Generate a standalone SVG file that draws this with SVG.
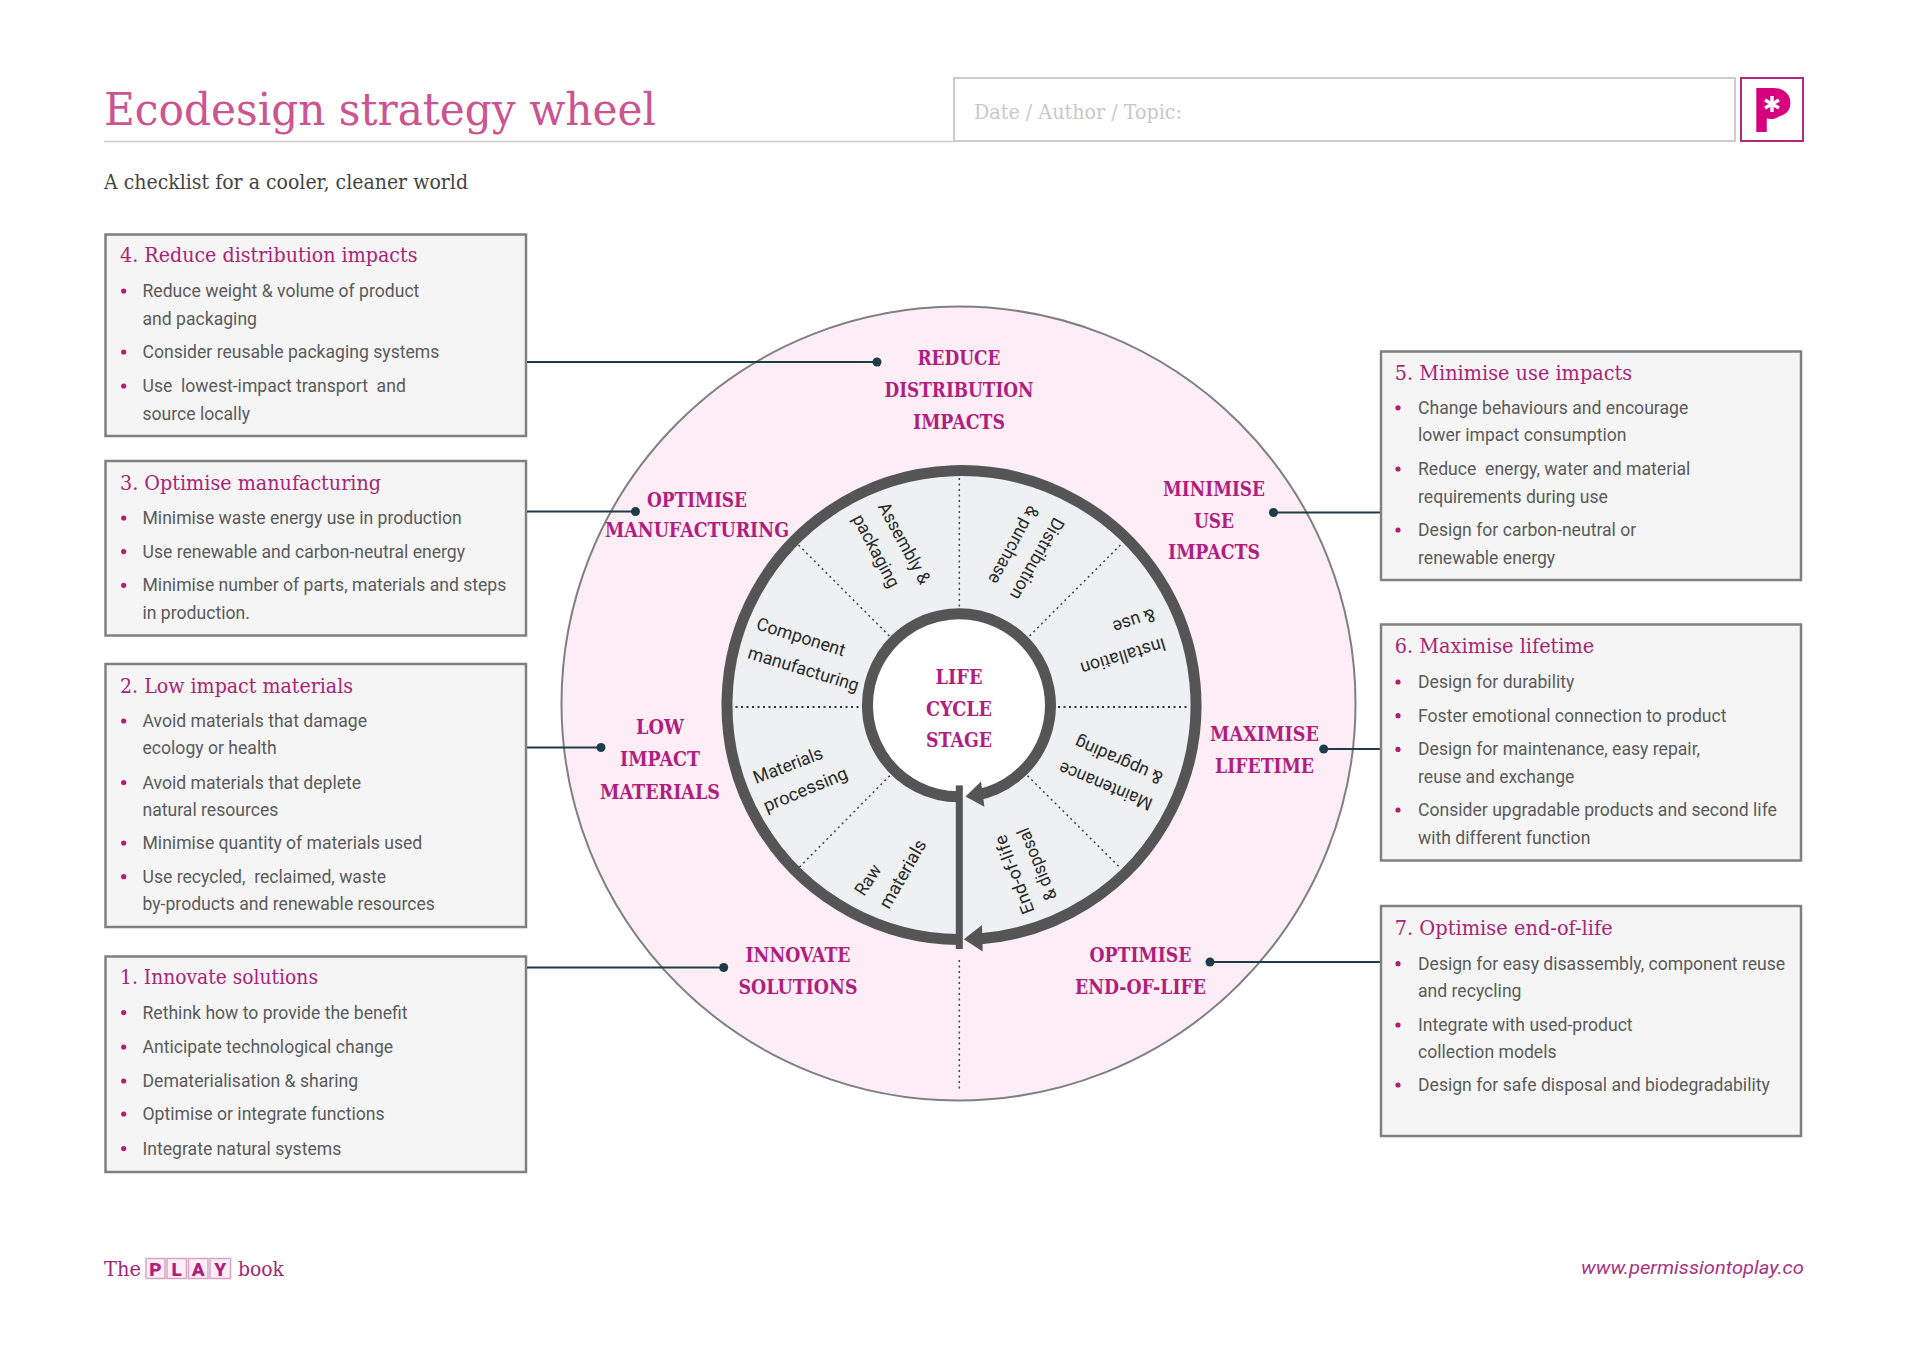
<svg xmlns="http://www.w3.org/2000/svg" width="1920" height="1357" viewBox="0 0 1920 1357">
<style>
.slab{font-family:"DejaVu Serif","Liberation Serif",serif}
.t{font-size:21px;fill:#a82478;transform:translateY(-1px)}
.b{font-family:Roboto,"Liberation Sans",sans-serif;font-size:17.6px;fill:#5a5a5a}
.box{fill:#f5f5f6;stroke:#808080;stroke-width:2.5}
.d{fill:#b01f6f}
.w{font-size:19.5px;font-weight:700;fill:#b01f7f;text-anchor:middle;transform:translateY(-1px)}
.s{font-family:Roboto,"Liberation Sans",sans-serif;font-size:18px;fill:#2a2a2a;text-anchor:middle}
.c{stroke:#1d3c47;stroke-width:2;fill:none}
.k{fill:#1d3c47}
.dot1{stroke:#333;stroke-width:2;stroke-dasharray:2 3.5;fill:none}
.dot2{stroke:#444;stroke-width:1.5;stroke-dasharray:2 3.5;fill:none}
.ring{fill:none;stroke:#555;stroke-width:11}
.h{fill:#555}
.pl{font-family:Roboto,sans-serif;font-weight:900;font-size:19px;fill:#b01f7f;text-anchor:middle}
.pb{fill:#fbeef5;stroke:#d9a4c8;stroke-width:1.5}
.ast{stroke:#fff;stroke-width:3.4;fill:none}
</style>
<rect width="1920" height="1357" fill="#fff"/>
<g id="header">
<line x1="104" y1="141.5" x2="954" y2="141.5" stroke="#ccc" stroke-width="1.5"/>
<text class="slab" x="104" y="125" font-size="44" fill="#cc5490" textLength="552" lengthAdjust="spacingAndGlyphs">Ecodesign strategy wheel</text>
<text class="slab" x="104" y="189" font-size="21" fill="#444" textLength="364" lengthAdjust="spacingAndGlyphs">A checklist for a cooler, cleaner world</text>
<rect x="954" y="78" width="781" height="63" fill="#fff" stroke="#ccc" stroke-width="2"/>
<text class="slab" x="974" y="119" font-size="21" fill="#c8c8c8" textLength="208" lengthAdjust="spacingAndGlyphs">Date / Author / Topic:</text>
</g>
<g id="logo">
<rect x="1741" y="78" width="62" height="63" fill="#fff" stroke="#b0287f" stroke-width="2"/>
<circle cx="1771" cy="106" r="13" fill="#d6007f"/>
<text x="1753" y="132" font-family="Roboto,sans-serif" font-weight="900" font-size="61" fill="#d6007f">P</text>
<path class="ast" d="M1772 96V112M1765 100L1779 108M1779 100L1765 108"/>
</g>
<g id="wheel">
<circle cx="958.5" cy="703.5" r="397" fill="#fdeef6" stroke="#808080" stroke-width="2"/>
<circle cx="959" cy="705.3" r="234" fill="#eef0f1"/>
<circle cx="959" cy="705.3" r="92" fill="#fff"/>
<g id="spokes">
<line class="dot1" x1="730" y1="707" x2="861" y2="707"/>
<line class="dot1" x1="1058" y1="707" x2="1188" y2="707"/>
<line class="dot2" x1="959.3" y1="478" x2="959.3" y2="609"/>
<line class="dot2" x1="959.3" y1="960" x2="959.3" y2="1090"/>
<line class="dot2" x1="798.5" y1="545" x2="889.7" y2="636.3"/>
<line class="dot2" x1="1120.4" y1="545" x2="1029.2" y2="636.3"/>
<line class="dot2" x1="1027.5" y1="775.7" x2="1120.4" y2="868"/>
<line class="dot2" x1="889.7" y1="775.7" x2="798.5" y2="868"/>
</g>
<path class="ring" d="M959 939.6A234.5 234.5 0 1 1 981 938.8"/>
<path class="ring" d="M959 796.8A91.5 91.5 0 1 1 977 795"/>
<polygon class="h" points="963.8,939.3 982,925 982.7,951.4"/>
<polygon class="h" points="965.5,796.4 981,781.6 984.4,806.7"/>
<rect class="h" x="955.8" y="785.4" width="7" height="163.6"/>
</g>
<g id="stages">
<text class="s" transform="translate(868 880) rotate(-57)" y="6" textLength="33" lengthAdjust="spacingAndGlyphs">Raw</text>
<text class="s" transform="translate(902.8 874) rotate(-60)" y="6" textLength="76" lengthAdjust="spacingAndGlyphs">materials</text>
<text class="s" transform="translate(788 765.4) rotate(-21)" y="6" textLength="73" lengthAdjust="spacingAndGlyphs">Materials</text>
<text class="s" transform="translate(805.4 789.5) rotate(-22.6)" y="6" textLength="89.5" lengthAdjust="spacingAndGlyphs">processing</text>
<text class="s" transform="translate(800.9 637) rotate(17.4)" y="6" textLength="92" lengthAdjust="spacingAndGlyphs">Component</text>
<text class="s" transform="translate(803.6 669) rotate(17)" y="6" textLength="115" lengthAdjust="spacingAndGlyphs">manufacturing</text>
<text class="s" transform="translate(904.3 543.3) rotate(61.5)" y="6" textLength="90" lengthAdjust="spacingAndGlyphs">Assembly &amp;</text>
<text class="s" transform="translate(876.2 550.9) rotate(62)" y="6" textLength="80" lengthAdjust="spacingAndGlyphs">packaging</text>
<text class="s" transform="translate(1037 558.8) rotate(119.5)" y="6" textLength="91" lengthAdjust="spacingAndGlyphs">Distribution</text>
<text class="s" transform="translate(1013.7 545) rotate(118.6)" y="6" textLength="86" lengthAdjust="spacingAndGlyphs">&amp; purchase</text>
<text class="s" transform="translate(1123.2 656.3) rotate(163)" y="6" textLength="88" lengthAdjust="spacingAndGlyphs">Installation</text>
<text class="s" transform="translate(1134.2 620.8) rotate(161.6)" y="6" textLength="43.5" lengthAdjust="spacingAndGlyphs">&amp; use</text>
<text class="s" transform="translate(1105.6 786) rotate(202.5)" y="6" textLength="99" lengthAdjust="spacingAndGlyphs">Maintenance</text>
<text class="s" transform="translate(1118.7 760.2) rotate(203.7)" y="6" textLength="94" lengthAdjust="spacingAndGlyphs">&amp; upgrading</text>
<text class="s" transform="translate(1014.4 874.6) rotate(249.3)" y="6" textLength="83" lengthAdjust="spacingAndGlyphs">End-of-life</text>
<text class="s" transform="translate(1037 864.2) rotate(247.5)" y="6" textLength="76.5" lengthAdjust="spacingAndGlyphs">&amp; disposal</text>
</g>
<g id="strategy-labels" class="slab">
<text class="w" x="959" y="366" textLength="83" lengthAdjust="spacingAndGlyphs">REDUCE</text>
<text class="w" x="959" y="398" textLength="149" lengthAdjust="spacingAndGlyphs">DISTRIBUTION</text>
<text class="w" x="959" y="430" textLength="92" lengthAdjust="spacingAndGlyphs">IMPACTS</text>
<text class="w" x="697" y="507.5" textLength="100" lengthAdjust="spacingAndGlyphs">OPTIMISE</text>
<text class="w" x="697" y="538" textLength="184" lengthAdjust="spacingAndGlyphs">MANUFACTURING</text>
<text class="w" x="1214" y="496.5" textLength="102" lengthAdjust="spacingAndGlyphs">MINIMISE</text>
<text class="w" x="1214" y="528.5" textLength="40" lengthAdjust="spacingAndGlyphs">USE</text>
<text class="w" x="1214" y="560" textLength="92" lengthAdjust="spacingAndGlyphs">IMPACTS</text>
<text class="w" x="1264.5" y="741.5" textLength="109" lengthAdjust="spacingAndGlyphs">MAXIMISE</text>
<text class="w" x="1264.5" y="773.5" textLength="99" lengthAdjust="spacingAndGlyphs">LIFETIME</text>
<text class="w" x="660" y="735" textLength="48" lengthAdjust="spacingAndGlyphs">LOW</text>
<text class="w" x="660" y="767" textLength="80" lengthAdjust="spacingAndGlyphs">IMPACT</text>
<text class="w" x="660" y="800" textLength="120" lengthAdjust="spacingAndGlyphs">MATERIALS</text>
<text class="w" x="798" y="963" textLength="105" lengthAdjust="spacingAndGlyphs">INNOVATE</text>
<text class="w" x="798" y="995" textLength="119" lengthAdjust="spacingAndGlyphs">SOLUTIONS</text>
<text class="w" x="1140.5" y="963" textLength="102" lengthAdjust="spacingAndGlyphs">OPTIMISE</text>
<text class="w" x="1140.5" y="995" textLength="131" lengthAdjust="spacingAndGlyphs">END-OF-LIFE</text>
<text class="w" x="959" y="684.5" textLength="47" lengthAdjust="spacingAndGlyphs">LIFE</text>
<text class="w" x="959" y="716.5" textLength="66" lengthAdjust="spacingAndGlyphs">CYCLE</text>
<text class="w" x="959" y="748" textLength="66" lengthAdjust="spacingAndGlyphs">STAGE</text>
</g>
<g id="connectors">
<path class="c" d="M526.5 362H877"/><circle class="k" cx="877" cy="362" r="4.5"/>
<path class="c" d="M526.5 511.5H635.5"/><circle class="k" cx="635.5" cy="511.5" r="4.5"/>
<path class="c" d="M526.5 747.5H601"/><circle class="k" cx="601" cy="747.5" r="4.5"/>
<path class="c" d="M526.5 967.5H723.7"/><circle class="k" cx="723.7" cy="967.5" r="4.5"/>
<path class="c" d="M1381 512.5H1273.5"/><circle class="k" cx="1273.5" cy="512.5" r="4.5"/>
<path class="c" d="M1381 749H1323.7"/><circle class="k" cx="1323.7" cy="749" r="4.5"/>
<path class="c" d="M1381 962H1210"/><circle class="k" cx="1210" cy="962" r="4.5"/>
</g>
<g id="box4">
<rect class="box" x="105.5" y="234.5" width="420.5" height="201.5"/>
<text class="slab t" x="120" y="263" textLength="297.5" lengthAdjust="spacingAndGlyphs">4. Reduce distribution impacts</text>
<circle class="d" cx="123.7" cy="291" r="2.6"/><text class="b" x="142.5" y="297">Reduce weight &amp; volume of product</text>
<text class="b" x="142.5" y="325">and packaging</text>
<circle class="d" cx="123.7" cy="352" r="2.6"/><text class="b" x="142.5" y="358">Consider reusable packaging systems</text>
<circle class="d" cx="123.7" cy="386" r="2.6"/><text class="b" x="142.5" y="392" xml:space="preserve">Use  lowest-impact transport  and</text>
<text class="b" x="142.5" y="420">source locally</text>
</g>
<g id="box3">
<rect class="box" x="105.5" y="461" width="420.5" height="174.5"/>
<text class="slab t" x="120" y="490.5" textLength="261" lengthAdjust="spacingAndGlyphs">3. Optimise manufacturing</text>
<circle class="d" cx="123.7" cy="518" r="2.6"/><text class="b" x="142.5" y="524">Minimise waste energy use in production</text>
<circle class="d" cx="123.7" cy="551.6" r="2.6"/><text class="b" x="142.5" y="557.6">Use renewable and carbon-neutral energy</text>
<circle class="d" cx="123.7" cy="585.3" r="2.6"/><text class="b" x="142.5" y="591.3">Minimise number of parts, materials and steps</text>
<text class="b" x="142.5" y="619">in production.</text>
</g>
<g id="box2">
<rect class="box" x="105.5" y="664" width="420.5" height="263"/>
<text class="slab t" x="120" y="693.7" textLength="233" lengthAdjust="spacingAndGlyphs">2. Low impact materials</text>
<circle class="d" cx="123.7" cy="721" r="2.6"/><text class="b" x="142.5" y="727">Avoid materials that damage</text>
<text class="b" x="142.5" y="754">ecology or health</text>
<circle class="d" cx="123.7" cy="782.5" r="2.6"/><text class="b" x="142.5" y="788.5">Avoid materials that deplete</text>
<text class="b" x="142.5" y="815.5">natural resources</text>
<circle class="d" cx="123.7" cy="843" r="2.6"/><text class="b" x="142.5" y="849">Minimise quantity of materials used</text>
<circle class="d" cx="123.7" cy="876.7" r="2.6"/><text class="b" x="142.5" y="882.7" xml:space="preserve">Use recycled,  reclaimed, waste</text>
<text class="b" x="142.5" y="910">by-products and renewable resources</text>
</g>
<g id="box1">
<rect class="box" x="105.5" y="956.5" width="420.5" height="215.5"/>
<text class="slab t" x="120" y="985" textLength="198" lengthAdjust="spacingAndGlyphs">1. Innovate solutions</text>
<circle class="d" cx="123.7" cy="1012.6" r="2.6"/><text class="b" x="142.5" y="1018.6">Rethink how to provide the benefit</text>
<circle class="d" cx="123.7" cy="1047" r="2.6"/><text class="b" x="142.5" y="1053">Anticipate technological change</text>
<circle class="d" cx="123.7" cy="1081" r="2.6"/><text class="b" x="142.5" y="1087">Dematerialisation &amp; sharing</text>
<circle class="d" cx="123.7" cy="1114" r="2.6"/><text class="b" x="142.5" y="1120">Optimise or integrate functions</text>
<circle class="d" cx="123.7" cy="1148.6" r="2.6"/><text class="b" x="142.5" y="1154.6">Integrate natural systems</text>
</g>
<g id="box5">
<rect class="box" x="1381" y="351.5" width="420" height="228.5"/>
<text class="slab t" x="1394.7" y="381" textLength="237.5" lengthAdjust="spacingAndGlyphs">5. Minimise use impacts</text>
<circle class="d" cx="1398" cy="407.8" r="2.6"/><text class="b" x="1418" y="413.8">Change behaviours and encourage</text>
<text class="b" x="1418" y="441.3">lower impact consumption</text>
<circle class="d" cx="1398" cy="469" r="2.6"/><text class="b" x="1418" y="475" xml:space="preserve">Reduce  energy, water and material</text>
<text class="b" x="1418" y="502.5">requirements during use</text>
<circle class="d" cx="1398" cy="530" r="2.6"/><text class="b" x="1418" y="536">Design for carbon-neutral or</text>
<text class="b" x="1418" y="563.8">renewable energy</text>
</g>
<g id="box6">
<rect class="box" x="1381" y="624.5" width="420" height="236"/>
<text class="slab t" x="1394.7" y="654" textLength="199.6" lengthAdjust="spacingAndGlyphs">6. Maximise lifetime</text>
<circle class="d" cx="1398" cy="682" r="2.6"/><text class="b" x="1418" y="688">Design for durability</text>
<circle class="d" cx="1398" cy="715.7" r="2.6"/><text class="b" x="1418" y="721.7">Foster emotional connection to product</text>
<circle class="d" cx="1398" cy="749.4" r="2.6"/><text class="b" x="1418" y="755.4">Design for maintenance, easy repair,</text>
<text class="b" x="1418" y="783">reuse and exchange</text>
<circle class="d" cx="1398" cy="810" r="2.6"/><text class="b" x="1418" y="816">Consider upgradable products and second life</text>
<text class="b" x="1418" y="843.6">with different function</text>
</g>
<g id="box7">
<rect class="box" x="1381" y="906" width="420" height="230"/>
<text class="slab t" x="1394.7" y="936" textLength="218" lengthAdjust="spacingAndGlyphs">7. Optimise end-of-life</text>
<circle class="d" cx="1398" cy="963.7" r="2.6"/><text class="b" x="1418" y="969.7">Design for easy disassembly, component reuse</text>
<text class="b" x="1418" y="996.6">and recycling</text>
<circle class="d" cx="1398" cy="1025" r="2.6"/><text class="b" x="1418" y="1031">Integrate with used-product</text>
<text class="b" x="1418" y="1057.8">collection models</text>
<circle class="d" cx="1398" cy="1085" r="2.6"/><text class="b" x="1418" y="1091">Design for safe disposal and biodegradability</text>
</g>
<g id="footer">
<text class="slab" x="104" y="1276" font-size="21" fill="#a02878" textLength="37" lengthAdjust="spacingAndGlyphs">The</text>
<rect class="pb" x="146" y="1258.5" width="19" height="20"/><text class="pl" x="155.5" y="1275.5">P</text>
<rect class="pb" x="167" y="1258.5" width="19.5" height="20"/><text class="pl" x="176.7" y="1275.5">L</text>
<rect class="pb" x="188.5" y="1258.5" width="19.5" height="20"/><text class="pl" x="198.2" y="1275.5">A</text>
<rect class="pb" x="210" y="1258.5" width="20.5" height="20"/><text class="pl" x="220.2" y="1275.5">Y</text>
<text class="slab" x="238" y="1276" font-size="21" fill="#a02878" textLength="46" lengthAdjust="spacingAndGlyphs">book</text>
<text x="1804" y="1273.5" font-family="Roboto,sans-serif" font-style="italic" font-size="18.5" fill="#a8327f" text-anchor="end" textLength="223" lengthAdjust="spacingAndGlyphs">www.permissiontoplay.co</text>
</g>
</svg>
